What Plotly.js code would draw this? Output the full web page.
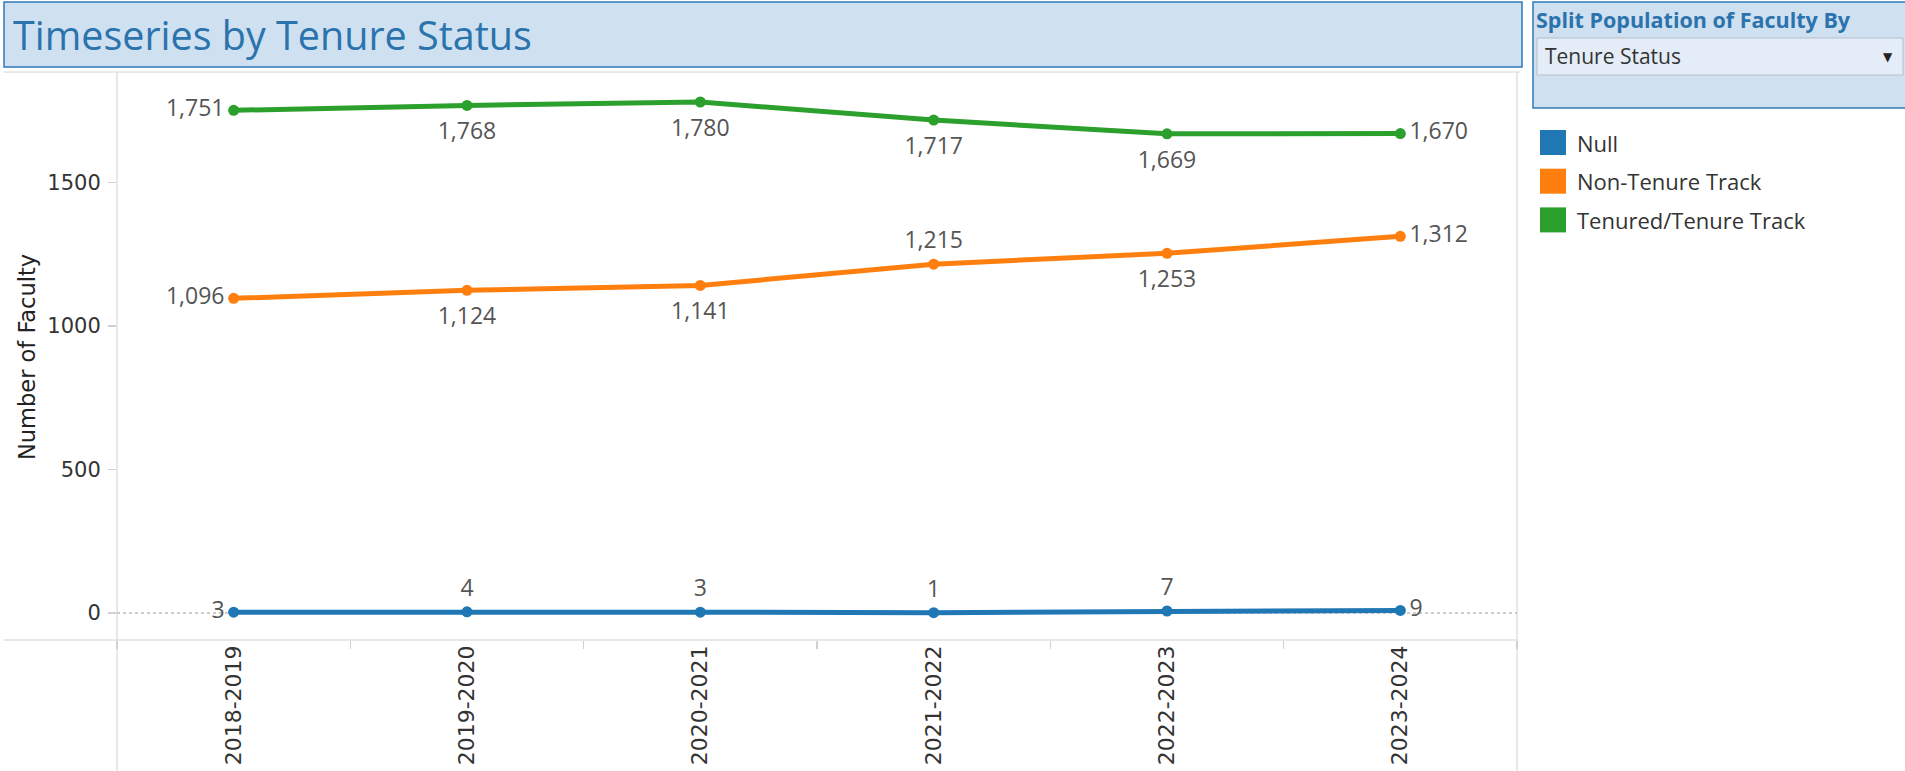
<!DOCTYPE html>
<html>
<head>
<meta charset="utf-8">
<script src="https://cdn.plot.ly/plotly-3.0.1.min.js"></script>
<style>
  html, body { margin: 0; padding: 0; background: #ffffff; }
  #chart { width: 1905px; height: 771px; }
</style>
</head>
<body>
<div id="chart"></div>
<script>
// ---- data ----
const years = ["2018-2019", "2019-2020", "2020-2021", "2021-2022", "2022-2023", "2023-2024"];
const seriesNames = ["Null", "Non-Tenure Track", "Tenured/Tenure Track"];
const nullValues = [3, 4, 3, 1, 7, 9];
const nonTenureValues = [1096, 1124, 1141, 1215, 1253, 1312];
const tenuredValues = [1751, 1768, 1780, 1717, 1669, 1670];
const yTickValues = [0, 500, 1000, 1500];

const chartTitle = "Timeseries by Tenure Status";
const yAxisTitle = "Number of Faculty";
const filterTitle = "Split Population of Faculty By";
const filterValue = "Tenure Status";

// ---- styling ----
const colors = ["#1f77b4", "#ff7f0e", "#2ca02c"];
const labelPositions = [
  ["middle left", "top center", "top center", "top center", "top center", "middle right"],
  ["middle left", "bottom center", "bottom center", "top center", "bottom center", "middle right"],
  ["middle left", "bottom center", "bottom center", "bottom center", "bottom center", "middle right"]
];
// invisible spacer marker size per label position (controls label distance from point)
const spacer = pos => pos.startsWith("bottom") ? 25 : (pos.startsWith("top") ? 15 : 13);

const W = 1905, H = 771;
const px = v => v / W;          // pixel -> paper x
const py = v => 1 - v / H;      // pixel -> paper y

const plotLeft = 117, plotRight = 1517, plotTop = 73, plotBottom = 640;
const uiFont = "Open Sans";
const axisFont = "DejaVu Sans";
const titleBlue = "#2b73ad";
const panelFill = "#cfe0f1";
const panelLine = "#2e7ab6";
const paneLine = "#e1e1e1";

const allValues = [nullValues, nonTenureValues, tenuredValues];

const traces = [];
// value labels (drawn first, markers invisible)
allValues.forEach((vals, i) => {
  traces.push({
    type: "scatter",
    mode: "markers+text",
    name: seriesNames[i] + " labels",
    x: years,
    y: vals,
    texttemplate: "%{y:,}",
    textposition: labelPositions[i],
    textfont: { family: uiFont, size: 23, color: "#555555" },
    marker: { color: colors[i], opacity: 0, size: labelPositions[i].map(spacer), line: { width: 0 } },
    showlegend: false,
    hoverinfo: "skip",
    cliponaxis: false
  });
});
// lines with point markers
allValues.forEach((vals, i) => {
  traces.push({
    type: "scatter",
    mode: "lines+markers",
    name: seriesNames[i],
    x: years,
    y: vals,
    line: { color: colors[i], width: 5 },
    marker: { color: colors[i], size: 11, line: { width: 0 } },
    showlegend: false,
    hoverinfo: "skip",
    cliponaxis: false
  });
});

const shapes = [
  // title box
  { type: "rect", xref: "paper", yref: "paper", x0: px(4), x1: px(1522), y0: py(2), y1: py(67),
    fillcolor: panelFill, line: { color: panelLine, width: 1.5 }, layer: "below" },
  // filter panel
  { type: "rect", xref: "paper", yref: "paper", x0: px(1533), x1: px(1912), y0: py(2), y1: py(108),
    fillcolor: panelFill, line: { color: panelLine, width: 1.5 }, layer: "below" },
  // dropdown box
  { type: "rect", xref: "paper", yref: "paper", x0: px(1537), x1: px(1903), y0: py(38), y1: py(75),
    fillcolor: "#e4edf7", line: { color: "#b3bfcc", width: 1 }, layer: "below" },
  // pane lines
  { type: "line", xref: "paper", yref: "paper", x0: px(4), x1: px(1520), y0: py(72), y1: py(72),
    line: { color: paneLine, width: 1.5 }, layer: "below" },
  { type: "line", xref: "paper", yref: "paper", x0: px(plotLeft), x1: px(plotLeft), y0: py(72), y1: py(771),
    line: { color: paneLine, width: 1.5 }, layer: "below" },
  { type: "line", xref: "paper", yref: "paper", x0: px(plotRight), x1: px(plotRight), y0: py(72), y1: py(771),
    line: { color: paneLine, width: 1.5 }, layer: "below" },
  { type: "line", xref: "paper", yref: "paper", x0: px(4), x1: px(plotRight), y0: py(plotBottom), y1: py(plotBottom),
    line: { color: paneLine, width: 1.5 }, layer: "below" },
  // dotted zero reference line
  { type: "line", xref: "paper", yref: "y", x0: px(plotLeft), x1: px(plotRight), y0: 0, y1: 0,
    line: { color: "#9a9a9a", width: 1, dash: "dot" }, layer: "below" }
];

const annotations = [
  { xref: "paper", yref: "paper", x: px(11), y: py(35), xanchor: "left", yanchor: "middle",
    text: chartTitle, showarrow: false, font: { family: uiFont, size: 39.5, color: titleBlue } },
  { xref: "paper", yref: "paper", x: px(1534), y: py(19), xanchor: "left", yanchor: "middle",
    text: "<b>" + filterTitle + "</b>", showarrow: false, font: { family: uiFont, size: 21.5, color: titleBlue } },
  { xref: "paper", yref: "paper", x: px(1543), y: py(56), xanchor: "left", yanchor: "middle",
    text: filterValue, showarrow: false, font: { family: uiFont, size: 21, color: "#333333" } },
  { xref: "paper", yref: "paper", x: px(1888), y: py(57), xanchor: "center", yanchor: "middle",
    text: "▼", showarrow: false, font: { family: axisFont, size: 12, color: "#222222" } },
  { xref: "paper", yref: "paper", x: px(27), y: py(357), xanchor: "center", yanchor: "middle",
    text: yAxisTitle, textangle: -90, showarrow: false, font: { family: axisFont, size: 22.5, color: "#222222" } }
];

// legend (squares + labels)
seriesNames.forEach((name, i) => {
  const top = 130 + i * 38.7;
  shapes.push({ type: "rect", xref: "paper", yref: "paper", x0: px(1540), x1: px(1566), y0: py(top), y1: py(top + 25),
    fillcolor: colors[i], line: { width: 0 } });
  annotations.push({ xref: "paper", yref: "paper", x: px(1575), y: py(top + 12.5), xanchor: "left", yanchor: "middle",
    text: name, showarrow: false, font: { family: uiFont, size: 22, color: "#333333" } });
});

const layout = {
  width: W, height: H,
  margin: { l: 0, r: 0, t: 0, b: 0 },
  paper_bgcolor: "#ffffff",
  plot_bgcolor: "rgba(0,0,0,0)",
  showlegend: false,
  xaxis: {
    type: "category",
    domain: [px(plotLeft), px(plotRight)],
    range: [-0.5, years.length - 0.5],
    tickson: "boundaries",
    ticks: "outside", ticklen: 8, tickcolor: "#d0d0d0", tickwidth: 1.5,
    tickangle: -90,
    tickfont: { family: axisFont, size: 22, color: "#333333" },
    showgrid: false, zeroline: false, showline: false,
    fixedrange: true
  },
  yaxis: {
    domain: [py(plotBottom), py(plotTop)],
    range: [-94, 1881],
    tickvals: yTickValues,
    ticks: "outside", ticklen: 8, tickcolor: "#d0d0d0", tickwidth: 1.5,
    ticklabelstandoff: 3,
    tickfont: { family: axisFont, size: 21, color: "#333333" },
    showgrid: false, zeroline: false, showline: false,
    fixedrange: true
  },
  shapes: shapes,
  annotations: annotations
};

Plotly.newPlot("chart", traces, layout, { staticPlot: true, displayModeBar: false });
</script>
</body>
</html>
